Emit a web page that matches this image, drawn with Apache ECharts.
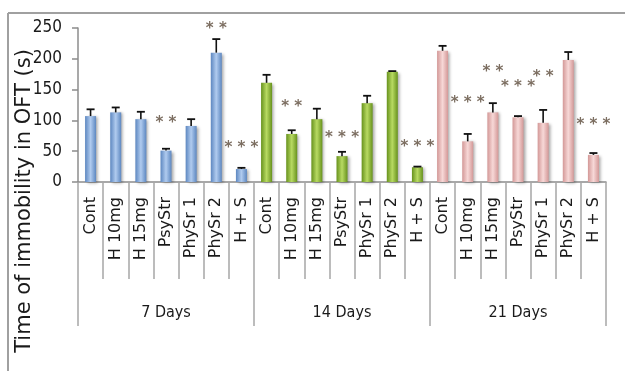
<!DOCTYPE html>
<html>
<head>
<meta charset="utf-8">
<script src="https://cdn.jsdelivr.net/npm/echarts@6/dist/echarts.min.js"></script>
<style>
  html, body { margin: 0; padding: 0; background: #fff; }
  #chart { width: 625px; height: 371px; }
</style>
</head>
<body>
<div id="chart"></div>
<script>
// Treatment groups shown within each time point
const treatments = ['Cont', 'H 10mg', 'H 15mg', 'PsyStr', 'PhySr 1', 'PhySr 2', 'H + S'];
const periods = ['7 Days', '14 Days', '21 Days'];

// Mean immobility time (s) and SEM for each period
const days7 = [107, 113, 102, 51, 91, 210, 21];
const days7Err = [11, 8, 12, 3, 11, 22, 2];
const days14 = [161, 78, 102, 42, 128, 179, 24];
const days14Err = [13, 6, 17, 7, 12, 1, 1];
const days21 = [213, 66, 113, 105, 96, 198, 44];
const days21Err = [8, 12, 15, 2, 21, 13, 3];

// Significance marks per bar ('' = none) and the height they sit at
const marks7 = ['', '', '', '**', '', '**', '***'];
const marks14 = ['', '**', '', '***', '', '', '***'];
const marks21 = ['', '***', '**', '***', '**', '', '***'];
const markLevel7 = [0, 0, 0, 96, 0, 248, 55];
const markLevel14 = [0, 122, 0, 71, 0, 0, 57];
const markLevel21 = [0, 128, 179, 154, 170, 0, 93];

const yTicks = [0, 50, 100, 150, 200, 250];

const palettes = [
  { dark: '#5d87c0', light: '#b0cbef' },
  { dark: '#67921d', light: '#b8da62' },
  { dark: '#d39897', light: '#f7d8d7' }
];

const groups = [
  { vals: days7, errs: days7Err, marks: marks7, levels: markLevel7 },
  { vals: days14, errs: days14Err, marks: marks14, levels: markLevel14 },
  { vals: days21, errs: days21Err, marks: marks21, levels: markLevel21 }
];

const categories = [];
const barData = [];
const errData = [];
const markData = [];
groups.forEach((g, gi) => {
  const p = palettes[gi];
  treatments.forEach((t, ti) => {
    const idx = categories.length;
    categories.push(t);
    barData.push({
      value: g.vals[ti],
      itemStyle: {
        color: new echarts.graphic.LinearGradient(0, 0, 1, 0, [
          { offset: 0, color: p.dark },
          { offset: 0.5, color: p.light },
          { offset: 1, color: p.dark }
        ])
      }
    });
    errData.push([idx, g.vals[ti], g.errs[ti]]);
    if (g.marks[ti]) {
      markData.push({ value: [idx, g.levels[ti]], mark: g.marks[ti].split('').join(' ') });
    }
  });
});

const chart = echarts.init(document.getElementById('chart'), null, { renderer: 'canvas' });

const condensed = "'Liberation Sans Narrow', 'DejaVu Sans Condensed', 'Liberation Sans', sans-serif";

chart.setOption({
  animation: false,
  backgroundColor: '#ffffff',
  grid: { left: 78, right: 19, top: 28, bottom: 189, containLabel: false },
  xAxis: [
    {
      type: 'category',
      data: categories,
      position: 'bottom',
      axisLine: { show: true, lineStyle: { color: '#8c8c8c', width: 1.5 } },
      axisTick: { show: true, length: 97, alignWithLabel: false, interval: 0, lineStyle: { color: '#a6a6a6', width: 1.5 } },
      axisLabel: {
        interval: 0,
        rotate: 90,
        margin: 15,
        fontFamily: 'DejaVu Sans',
        fontSize: 16,
        color: '#1a1a1a'
      }
    },
    {
      type: 'category',
      data: periods,
      position: 'bottom',
      axisLine: { show: false },
      axisTick: { show: true, length: 144, alignWithLabel: false, interval: 0, lineStyle: { color: '#a6a6a6', width: 1.5 } },
      axisLabel: {
        interval: 0,
        margin: 123,
        fontFamily: condensed,
        fontSize: 16,
        color: '#1a1a1a'
      }
    }
  ],
  yAxis: {
    type: 'value',
    min: 0,
    max: 250,
    interval: 50,
    axisLine: { show: true, lineStyle: { color: '#8c8c8c', width: 1.5 } },
    axisTick: { show: true, length: 6, lineStyle: { color: '#8c8c8c', width: 1.5 } },
    splitLine: { show: false },
    axisLabel: {
      margin: 16,
      fontFamily: condensed,
      fontSize: 17,
      color: '#1a1a1a',
      formatter: v => (yTicks.indexOf(v) >= 0 ? String(v) : '')
    }
  },
  graphic: [
    { type: 'line', shape: { x1: 8, y1: 13, x2: 625, y2: 13 }, style: { stroke: '#a0a0a0', lineWidth: 2 } },
    { type: 'line', shape: { x1: 8, y1: 13, x2: 8, y2: 371 }, style: { stroke: '#a0a0a0', lineWidth: 2 } },
    {
      type: 'text',
      x: 25,
      y: 201,
      rotation: Math.PI / 2,
      style: {
        text: 'Time of immobility in OFT (s)',
        fontFamily: 'DejaVu Sans',
        fontSize: 21,
        fill: '#1a1a1a',
        textAlign: 'center',
        textVerticalAlign: 'middle'
      }
    }
  ],
  series: [
    {
      type: 'bar',
      data: barData,
      barWidth: 11,
      itemStyle: {
        shadowColor: 'rgba(0,0,0,0.35)',
        shadowBlur: 3,
        shadowOffsetX: 2,
        shadowOffsetY: 1
      },
      z: 2
    },
    {
      type: 'custom',
      data: errData,
      z: 3,
      renderItem: function (params, api) {
        const idx = api.value(0);
        const v = api.value(1);
        const e = api.value(2);
        const base = api.coord([idx, v]);
        const top = api.coord([idx, v + e]);
        const cap = 4;
        return {
          type: 'group',
          children: [
            { type: 'line', shape: { x1: base[0], y1: base[1], x2: top[0], y2: top[1] }, style: { stroke: '#111', lineWidth: 1.6 } },
            { type: 'line', shape: { x1: top[0] - cap, y1: top[1], x2: top[0] + cap, y2: top[1] }, style: { stroke: '#111', lineWidth: 1.8 } }
          ]
        };
      }
    },
    {
      type: 'scatter',
      data: markData,
      symbolSize: 0,
      z: 4,
      label: {
        show: true,
        position: 'inside',
        formatter: p => p.data.mark,
        fontFamily: 'DejaVu Sans',
        fontSize: 15,
        fontWeight: 'bold',
        color: '#5b4a3a'
      }
    }
  ]
});
</script>
</body>
</html>
